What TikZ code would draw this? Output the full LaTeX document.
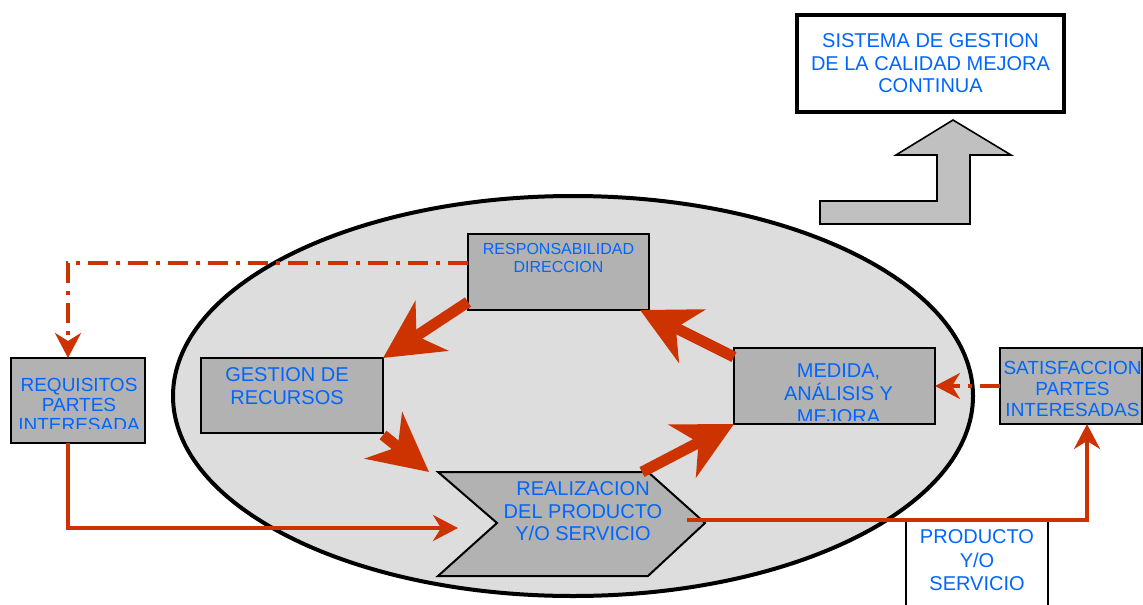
\documentclass[tikz,border=0pt]{standalone}
\usepackage{fontspec}
\setmainfont{Liberation Sans}
\usepackage{tikz}
\usetikzlibrary{positioning,arrows.meta,shapes.geometric}
\usepackage{xcolor}
\definecolor{pdcared}{RGB}{204,51,0}
\definecolor{txtblue}{RGB}{0,102,255}
\definecolor{boxgray}{RGB}{178,178,178}
\definecolor{ellgray}{RGB}{221,221,221}
\definecolor{arrowgray}{RGB}{192,192,192}
\tikzset{
  procbox/.style={draw,line width=1pt,fill=boxgray,inner sep=0pt,outer sep=0pt},
  boxtext/.style={text=txtblue,align=center,inner sep=0pt,font=\fontsize{10}{11.5}\selectfont},
  flowline/.style={draw=pdcared,line width=1.8pt,-{Stealth[length=12.5pt,width=13pt,inset=4pt]}},
  feedline/.style={flowline,dash pattern=on 10pt off 4pt on 2pt off 4pt},
  cyclearrow/.style={draw=pdcared,line width=5.5pt,-{Stealth[length=29pt,width=29.5pt,inset=9pt]}},
}
\begin{document}
\begin{tikzpicture}[x=0.5pt,y=-0.5pt]
\useasboundingbox (0,0) rectangle (1143,604);

\node[draw,ellipse,line width=2pt,fill=ellgray,inner sep=0pt,
  minimum width=400pt,minimum height=200pt] (pdca) at (573,396) {};

\node[draw,line width=2pt,fill=white,inner sep=0pt,outer sep=0pt,
  minimum width=133.5pt,minimum height=48.5pt,
  boxtext,font=\fontsize{10}{11.25}\selectfont] (sgc) at (930.5,63.5)
  {SISTEMA DE GESTION\\DE LA CALIDAD MEJORA\\CONTINUA};
\draw[line width=0.8pt,fill=arrowgray] (953,120) -- (1011,155) -- (970,155)
  -- (970,224) -- (820,224) -- (820,201) -- (937,201) -- (937,155)
  -- (896,155) -- cycle;

\node[procbox,minimum width=90.5pt,minimum height=38pt] (resp) at (558.5,272) {};
\node[boxtext,font=\fontsize{8}{9}\selectfont] (resptext) at (558.5,258)
  {RESPONSABILIDAD\\DIRECCION};

\node[procbox,minimum width=91pt,minimum height=37.5pt] (gestion) at (292,395.5) {};
\node[boxtext] (gestiontext) at (287,386.5) {GESTION DE\\RECURSOS};

\node[procbox,minimum width=67pt,minimum height=42.5pt] (req) at (78,400.5) {};
\begin{scope}
\clip (req.north west) rectangle ([yshift=7.5pt]req.south east);
\node[boxtext,font=\fontsize{9.5}{10}\selectfont] (reqtext) at (79,405)
  {REQUISITOS\\PARTES\\INTERESADA};
\end{scope}

\node[procbox,minimum width=100.5pt,minimum height=38pt] (med) at (834.5,386) {};
\begin{scope}
\clip (med.north west) rectangle ([yshift=2pt]med.south east);
\node[boxtext] (medtext) at (838.5,393.5) {MEDIDA,\\ANÁLISIS Y\\MEJORA};
\end{scope}

\node[procbox,minimum width=71pt,minimum height=38pt] (sat) at (1071,386) {};
\node[boxtext,font=\fontsize{9.5}{10.5}\selectfont] (sattext) at (1072.5,389)
  {SATISFACCION\\PARTES\\INTERESADAS};

\node[draw,line width=1pt,fill=white,inner sep=0pt,outer sep=0pt,
  minimum width=71pt,minimum height=46pt] (prod) at (977,566) {};
\node[boxtext,font=\fontsize{10}{11.75}\selectfont] (prodtext) at (977,560.5)
  {PRODUCTO\\Y/O\\SERVICIO};

\coordinate (chevnw) at (438,472);
\coordinate (chevne) at (648,472);
\coordinate (chevtip) at (705,523);
\coordinate (chevse) at (648,576);
\coordinate (chevsw) at (438,576);
\coordinate (chevnotch) at (497,523);
\draw[line width=1pt,fill=boxgray] (chevnw) -- (chevne) -- (chevtip)
  -- (chevse) -- (chevsw) -- (chevnotch) -- cycle;
\node[boxtext,font=\fontsize{10}{11.25}\selectfont] (realtext) at (583,511.5)
  {REALIZACION\\DEL PRODUCTO\\Y/O SERVICIO};
\coordinate (chevin) at (458,528);
\coordinate (chevout) at (687,520);

\draw[feedline] ([yshift=4.5pt]resp.west) -| ([xshift=-5pt]req.north);
\draw[flowline] ([xshift=-5pt]req.south) |- (chevin);
\draw[flowline] (chevout) -| ([xshift=8pt]sat.south);
\draw[feedline] (sat.west) -- (med.east);

\draw[cyclearrow] ([yshift=4pt]resp.south west) -- (gestion.north east);
\draw[cyclearrow] ([yshift=-1pt]gestion.south east) -- ([xshift=-4.5pt]chevnw);
\draw[cyclearrow] ([xshift=-3pt]chevne) -- (med.south west);
\draw[cyclearrow] ([yshift=-4.5pt]med.north west) -- ([xshift=-4.5pt]resp.south east);

\end{tikzpicture}
\end{document}
